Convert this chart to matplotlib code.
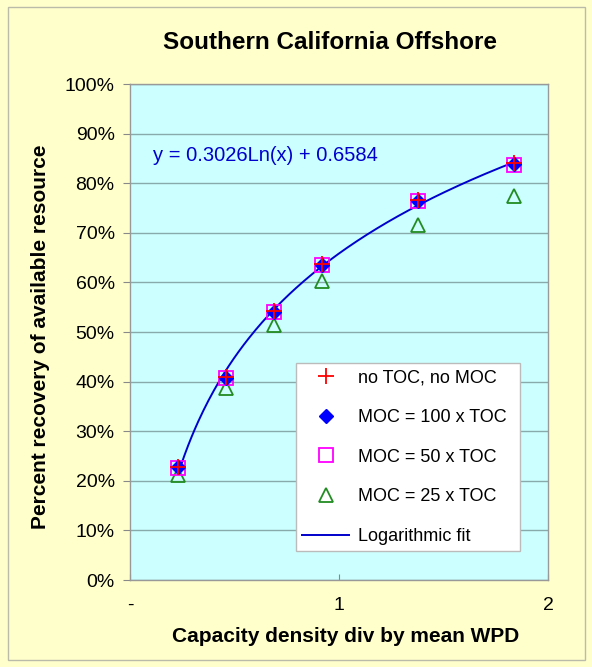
import matplotlib.pyplot as plt
import numpy as np
from matplotlib.patches import Rectangle
from matplotlib.ticker import FuncFormatter

plt.rcParams['font.family'] = ['Liberation Sans', 'DejaVu Sans']

# capacity density / mean WPD
x_vals = [0.23, 0.459, 0.689, 0.919, 1.378, 1.837]
# percent recovery (fraction)
no_toc = [0.228, 0.409, 0.542, 0.637, 0.766, 0.840]
moc_100 = [0.227, 0.408, 0.541, 0.636, 0.764, 0.839]
moc_50 = [0.226, 0.407, 0.540, 0.636, 0.764, 0.836]
moc_25 = [0.212, 0.388, 0.514, 0.603, 0.716, 0.775]
fit_a, fit_b = 0.3026, 0.6584

fig = plt.figure(figsize=(5.92, 6.67), dpi=100, facecolor='#FFFFCC')
fig.patches.append(Rectangle((0.013, 0.01), 0.975, 0.98, transform=fig.transFigure,
                             fill=False, edgecolor='#BBBBAA', linewidth=1.0))

ax = fig.add_axes([0.2196, 0.1304, 0.7061, 0.7436])
ax.set_facecolor('#CCFFFF')

xf = np.linspace(min(x_vals), max(x_vals), 200)
ax.plot(xf, fit_a * np.log(xf) + fit_b, color='#0000CC', lw=1.4, zorder=2,
        label='Logarithmic fit')

ax.plot(x_vals, moc_25, linestyle='none', marker='^', ms=10, mfc='none',
        mec='#228B22', mew=1.3, label='MOC = 25 x TOC', zorder=3)
ax.plot(x_vals, moc_50, linestyle='none', marker='s', ms=10, mfc='none',
        mec='#FF00FF', mew=1.3, label='MOC = 50 x TOC', zorder=4)
ax.plot(x_vals, moc_100, linestyle='none', marker='D', ms=7, color='#0000FF',
        label='MOC = 100 x TOC', zorder=5)
ax.plot(x_vals, no_toc, linestyle='none', marker='+', ms=11, mew=1.3,
        color='#FF0000', label='no TOC, no MOC', zorder=6)

ax.set_xlim(0, 2)
ax.set_ylim(0, 1)
ax.set_xticks([0, 1, 2])
ax.set_xticklabels(['-', '1', '2'])
ax.set_yticks(np.arange(0, 1.01, 0.1))
ax.yaxis.set_major_formatter(FuncFormatter(lambda v, p: f'{v*100:.0f}%'))
ax.tick_params(axis='x', direction='in', length=4, color='#888888', labelsize=14, pad=12)
ax.tick_params(axis='y', direction='out', length=5, color='#888888', labelsize=14, pad=6)
ax.grid(axis='y', color='#88AAAA', linewidth=1.0)
ax.set_axisbelow(True)
for s in ax.spines.values():
    s.set_color('#999999')
    s.set_linewidth(1.0)

ax.text(0.055, 0.855, 'y = 0.3026Ln(x) + 0.6584', transform=ax.transAxes,
        color='#0000CC', fontsize=14.5, va='center')

handles, labels = ax.get_legend_handles_labels()
order = [4, 3, 2, 1, 0]
leg = ax.legend([handles[i] for i in order], [labels[i] for i in order],
                loc='lower left', bbox_to_anchor=(0.397, 0.058, 0.536, 0.38),
                mode='expand', fontsize=13, frameon=True, fancybox=False,
                edgecolor='#BBBBBB', framealpha=1, labelspacing=1.25,
                handlelength=2.6, handletextpad=0.5, borderpad=0.35,
                borderaxespad=0)
leg.get_frame().set_linewidth(1.0)

fig.text(0.557, 0.937, 'Southern California Offshore', ha='center', va='center',
         fontsize=17.5, fontweight='bold')
fig.text(0.583, 0.045, 'Capacity density div by mean WPD', ha='center', va='center',
         fontsize=15, fontweight='bold')
fig.text(0.068, 0.495, 'Percent recovery of available resource', ha='center',
         va='center', rotation=90, fontsize=15, fontweight='bold')

fig.savefig('out.png', dpi=100, facecolor=fig.get_facecolor())
